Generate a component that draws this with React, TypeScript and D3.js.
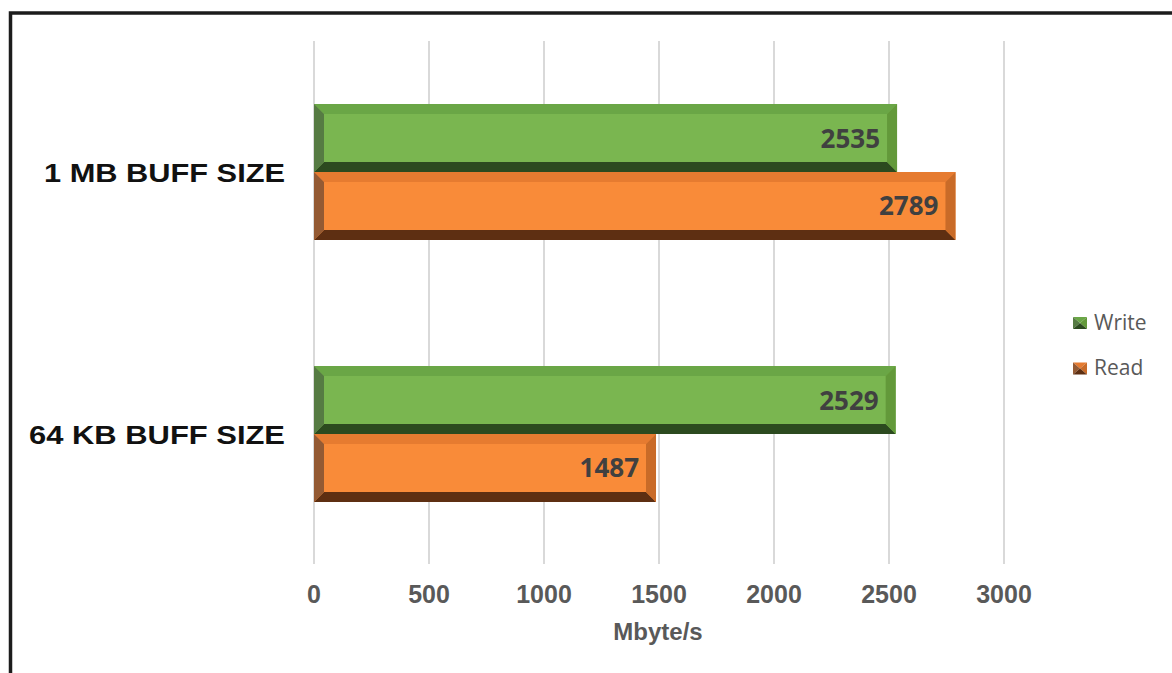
import React from "react";
import * as d3 from "d3";

const categories = ["1 MB BUFF SIZE", "64 KB BUFF SIZE"];
const seriesNames = ["Write", "Read"];
const writeValues = [2535, 2529];
const readValues = [2789, 1487];
const tickValues = [0, 500, 1000, 1500, 2000, 2500, 3000];
const axisTitle = "Mbyte/s";

const palette: Record<string, { main: string; top: string; left: string; bottom: string; right: string }> = {
  Write: { main: "#7ab650", top: "#6aa646", left: "#567b43", bottom: "#2c4a1f", right: "#63993a" },
  Read: { main: "#f98b39", top: "#e67b30", left: "#945a33", bottom: "#5e2f12", right: "#c96b28" },
};

const W = 1172;
const H = 673;

function BevelBar({ x0, x1, y0, y1, c }: { x0: number; x1: number; y0: number; y1: number; c: any }) {
  const b = 10;
  const p = (pts: number[][]) => pts.map((q) => q.join(",")).join(" ");
  return (
    <g>
      <rect x={x0} y={y0} width={x1 - x0} height={y1 - y0} fill={c.main} />
      <polygon points={p([[x0, y0], [x1, y0], [x1 - b, y0 + b], [x0 + b, y0 + b]])} fill={c.top} />
      <polygon points={p([[x0, y1], [x1, y1], [x1 - b, y1 - b], [x0 + b, y1 - b]])} fill={c.bottom} />
      <polygon points={p([[x0, y0], [x0 + b, y0 + b], [x0 + b, y1 - b], [x0, y1]])} fill={c.left} />
      <polygon points={p([[x1, y0], [x1 - b, y0 + b], [x1 - b, y1 - b], [x1, y1]])} fill={c.right} />
    </g>
  );
}

function LegendIcon({ x, y, w, h, c }: { x: number; y: number; w: number; h: number; c: any }) {
  const cx = x + w / 2;
  const cy = y + h / 2;
  const p = (pts: number[][]) => pts.map((q) => q.join(",")).join(" ");
  return (
    <g>
      <polygon points={p([[x, y], [x + w, y], [cx, cy]])} fill={c.top} />
      <polygon points={p([[x, y], [cx, cy], [x, y + h]])} fill={c.left} />
      <polygon points={p([[x + w, y], [cx, cy], [x + w, y + h]])} fill={c.right} />
      <polygon points={p([[x, y + h], [cx, cy], [x + w, y + h]])} fill={c.bottom} />
    </g>
  );
}

export default function App() {
  const x = d3.scaleLinear().domain([0, 3000]).range([314, 1004]);
  const y = d3.scaleBand<string>().domain(categories).range([41, 565]).paddingInner(0.481).paddingOuter(0.2405);
  const ySub = d3.scaleBand<string>().domain(seriesNames).range([0, y.bandwidth()]).padding(0);
  const valuesBySeries: Record<string, number[]> = { Write: writeValues, Read: readValues };

  return (
    <svg width={W} height={H} style={{ position: "absolute", left: 0, top: 0, background: "#fff" }}>
      <rect x={0} y={0} width={W} height={H} fill="#fff" />
      <rect x={10.5} y={13} width={W + 20} height={H + 20} fill="none" stroke="#1c1c1c" strokeWidth={3.5} />

      {tickValues.map((t) => (
        <line key={"g" + t} x1={x(t)} x2={x(t)} y1={41} y2={564} stroke="#d9d9d9" strokeWidth={2} />
      ))}

      {categories.map((cat, i) => (
        <g key={cat}>
          {seriesNames.map((s) => {
            const v = valuesBySeries[s][i];
            const y0 = (y(cat) as number) + (ySub(s) as number);
            const y1 = y0 + ySub.bandwidth();
            const x0 = x(0);
            const x1 = x(v);
            return (
              <g key={s}>
                <BevelBar x0={x0} x1={x1} y0={y0} y1={y1} c={palette[s]} />
                <text
                  x={x1 - 17}
                  y={(y0 + y1) / 2 + 9.5}
                  textAnchor="end"
                  fontFamily="'Open Sans', sans-serif"
                  fontWeight="bold"
                  fontSize={26}
                  fill="#404040"
                >
                  {v}
                </text>
              </g>
            );
          })}
          <text
            x={285}
            y={(y(cat) as number) + y.bandwidth() / 2 + 9.5}
            textAnchor="end"
            fontFamily="'Liberation Sans', Arial, sans-serif"
            fontWeight="bold"
            fontSize={26}
            fill="#111"
            textLength={cat.length > 14 ? 256 : 241}
            lengthAdjust="spacingAndGlyphs"
          >
            {cat}
          </text>
        </g>
      ))}

      {tickValues.map((t) => (
        <text
          key={"t" + t}
          x={x(t)}
          y={602.5}
          textAnchor="middle"
          fontFamily="'Liberation Sans', Arial, sans-serif"
          fontWeight="bold"
          fontSize={25}
          fill="#595959"
        >
          {t}
        </text>
      ))}

      <text
        x={658}
        y={640}
        textAnchor="middle"
        fontFamily="'Liberation Sans', Arial, sans-serif"
        fontWeight="bold"
        fontSize={24}
        fill="#595959"
      >
        {axisTitle}
      </text>

      {seriesNames.map((s, i) => {
        const ly = 317 + i * 45.5;
        return (
          <g key={"l" + s}>
            <LegendIcon x={1073} y={ly} w={14} h={12} c={palette[s]} />
            <text
              x={1094}
              y={ly + 12.5}
              fontFamily="'Open Sans', sans-serif"
              fontSize={21}
              fill="#595959"
            >
              {s}
            </text>
          </g>
        );
      })}
    </svg>
  );
}
